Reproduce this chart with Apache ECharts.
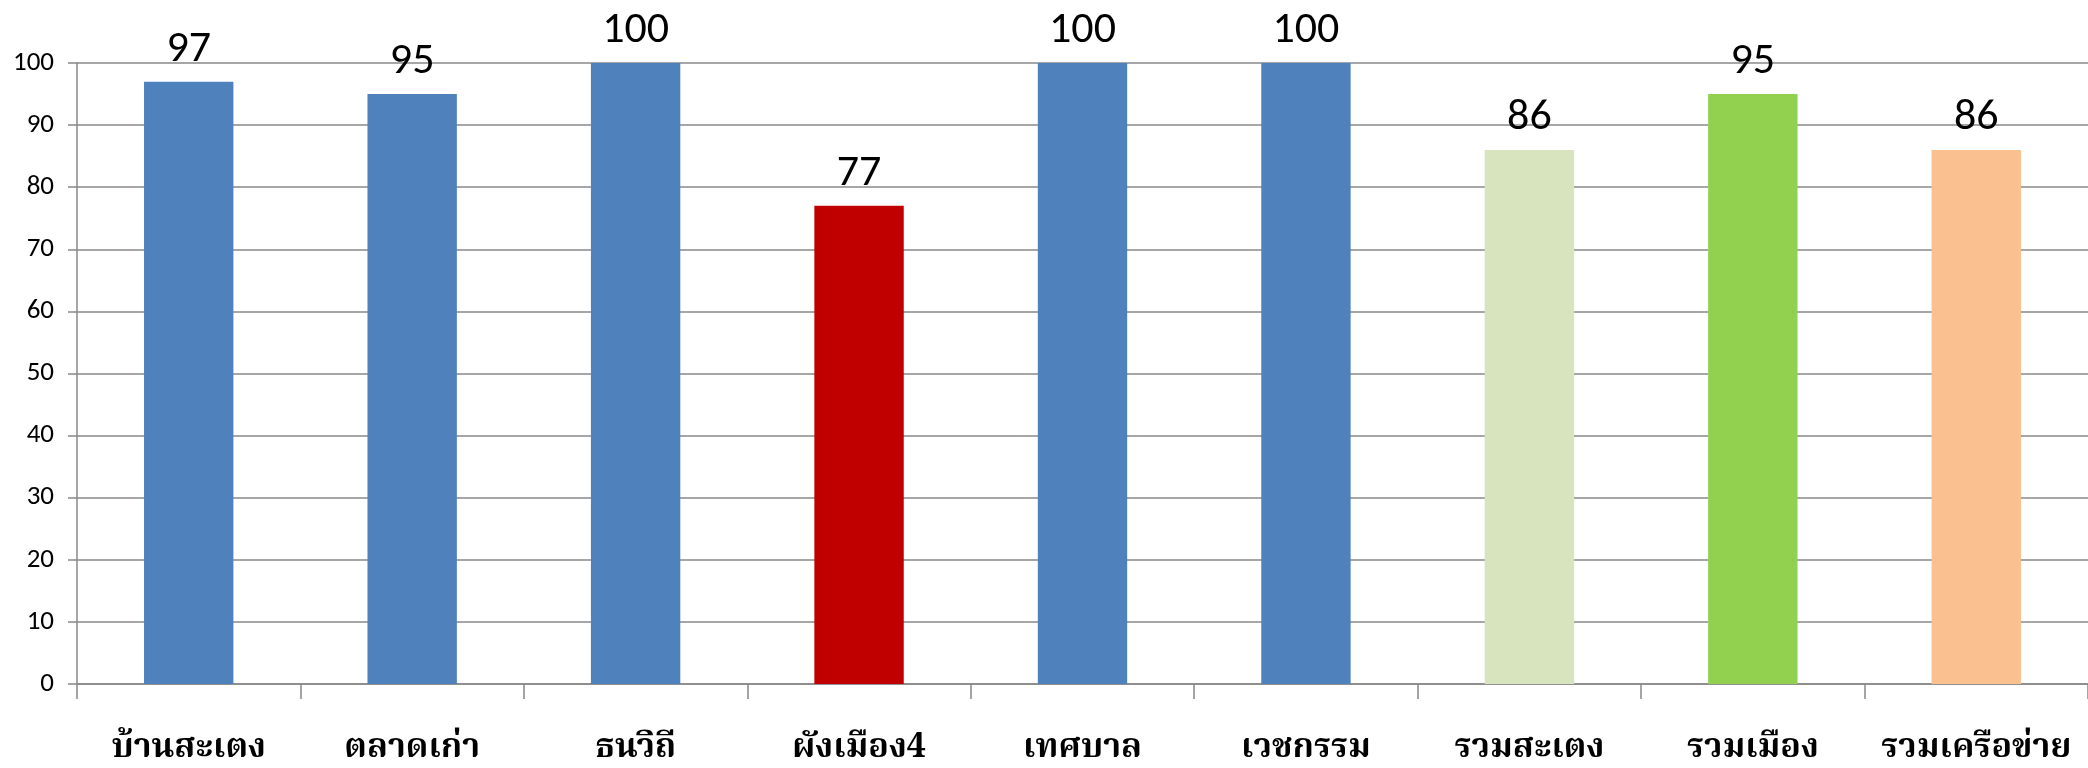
<!DOCTYPE html>
<html><head><meta charset="utf-8">
<script src="https://cdn.jsdelivr.net/npm/echarts@6/dist/echarts.min.js"></script>
<style>html,body{margin:0;padding:0;background:#fff}#c{width:2088px;height:768px}</style>
</head><body><div id="c"></div>
<script>
const categories = ['บ้านสะเตง','ตลาดเก่า','ธนวิถี','ผังเมือง4','เทศบาล','เวชกรรม','รวมสะเตง','รวมเมือง','รวมเครือข่าย'];
const values = [97, 95, 100, 77, 100, 100, 86, 95, 86];
const barColors = ['#4F81BD','#4F81BD','#4F81BD','#C00000','#4F81BD','#4F81BD','#D7E4BD','#92D050','#FAC090'];
const yTicks = [0,10,20,30,40,50,60,70,80,90,100];

const chart = echarts.init(document.getElementById('c'), null, {renderer:'canvas'});
const numFont = 'Carlito, Calibri, "Open Sans", Lato, sans-serif';
const thaiFont = '"Angsana New", "TH Sarabun New", "Noto Serif Thai", "Noto Sans Thai", Loma, Garuda, "DejaVu Sans", serif';
chart.setOption({
  animation: false,
  backgroundColor: '#fff',
  grid: {left: 77, right: 0, top: 63, bottom: 83, containLabel: false},
  xAxis: {
    type: 'category',
    data: categories,
    axisLine: {lineStyle: {color: '#888', width: 1.5}},
    axisTick: {show: true, length: 15, lineStyle: {color: '#888', width: 1.5}},
    axisLabel: {color: '#000', fontFamily: thaiFont, fontWeight: 'bold', fontSize: 34, margin: 50, interval: 0}
  },
  yAxis: {
    type: 'value', min: yTicks[0], max: yTicks[yTicks.length-1], interval: 10,
    axisLine: {show: true, lineStyle: {color: '#888', width: 1.5}},
    axisTick: {show: true, length: 9, lineStyle: {color: '#888', width: 1.5}},
    splitLine: {lineStyle: {color: '#888', width: 1.5}},
    axisLabel: {color: '#000', fontFamily: numFont, fontSize: 27, margin: 23}
  },
  series: [{
    type: 'bar',
    data: values.map((v,i)=>({value: v, itemStyle: {color: barColors[i]}})),
    barWidth: '40%',
    label: {show: true, position: 'top', distance: 10, color: '#000', fontFamily: numFont, fontSize: 44}
  }]
});
</script></body></html>
